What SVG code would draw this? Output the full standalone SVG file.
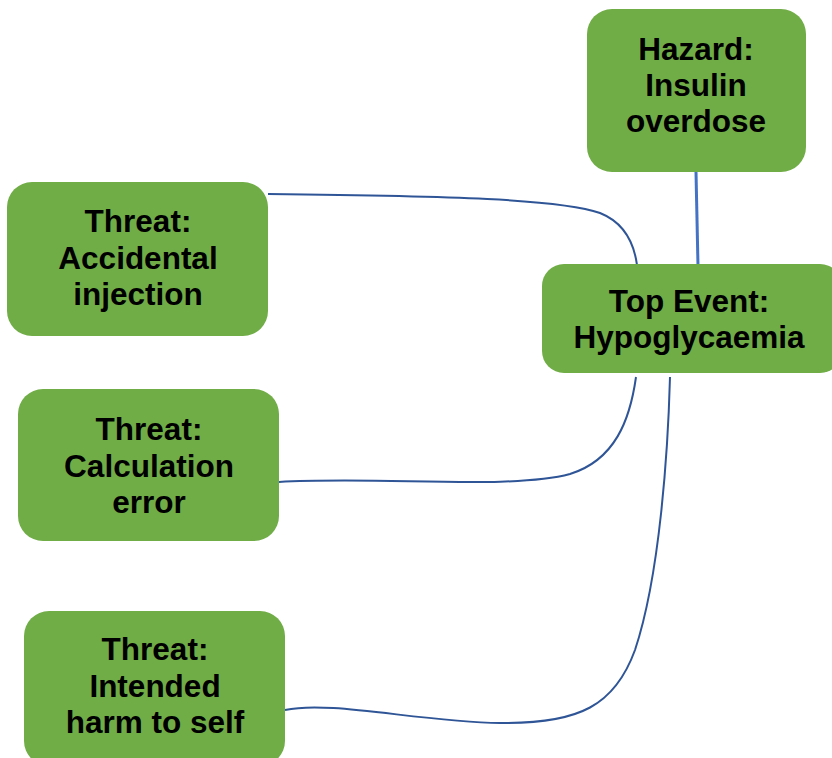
<svg xmlns="http://www.w3.org/2000/svg" width="832" height="758" viewBox="0 0 832 758">
<style>
.node{fill:#70AD47;}
.t{font-family:"Liberation Sans",Arial,sans-serif;font-weight:bold;font-size:31.5px;fill:#000;text-anchor:middle;}
.c{fill:none;stroke:#2F5597;stroke-width:2;}
.h{fill:none;stroke:#4472C4;stroke-width:3;}
</style>
<rect width="832" height="758" fill="#fff"/>
<g id="connectors">
<path class="h" d="M696,172 L698,266"/>
<path class="c" d="M268,194 C450,196 560,199 600,213 C625,223 634,243 637,265"/>
<path class="c" d="M279,482 C380,476 510,490 570,474 C615,460 630,420 636,377"/>
<path class="c" d="M285,710 C330,700 420,722 500,723 C580,724 615,705 635,650 C660,575 668,450 670,377"/>
</g>
<g id="hazard">
<rect class="node" x="587" y="9" width="219" height="163" rx="25"/>
<text class="t" x="696" y="60">Hazard:</text>
<text class="t" x="696" y="96">Insulin</text>
<text class="t" x="696" y="132">overdose</text>
</g>
<g id="top-event">
<rect class="node" x="542" y="264" width="300" height="109" rx="22"/>
<text class="t" x="689" y="312">Top Event:</text>
<text class="t" x="689" y="348">Hypoglycaemia</text>
</g>
<g id="threat-accidental">
<rect class="node" x="7" y="182" width="261" height="154" rx="25"/>
<text class="t" x="138" y="232">Threat:</text>
<text class="t" x="138" y="269">Accidental</text>
<text class="t" x="138" y="305">injection</text>
</g>
<g id="threat-calculation">
<rect class="node" x="18" y="389" width="261" height="152" rx="25"/>
<text class="t" x="149" y="440">Threat:</text>
<text class="t" x="149" y="477">Calculation</text>
<text class="t" x="149" y="513">error</text>
</g>
<g id="threat-intended">
<rect class="node" x="24" y="611" width="261" height="155" rx="25"/>
<text class="t" x="155" y="660">Threat:</text>
<text class="t" x="155" y="697">Intended</text>
<text class="t" x="155" y="733">harm to self</text>
</g>
</svg>
